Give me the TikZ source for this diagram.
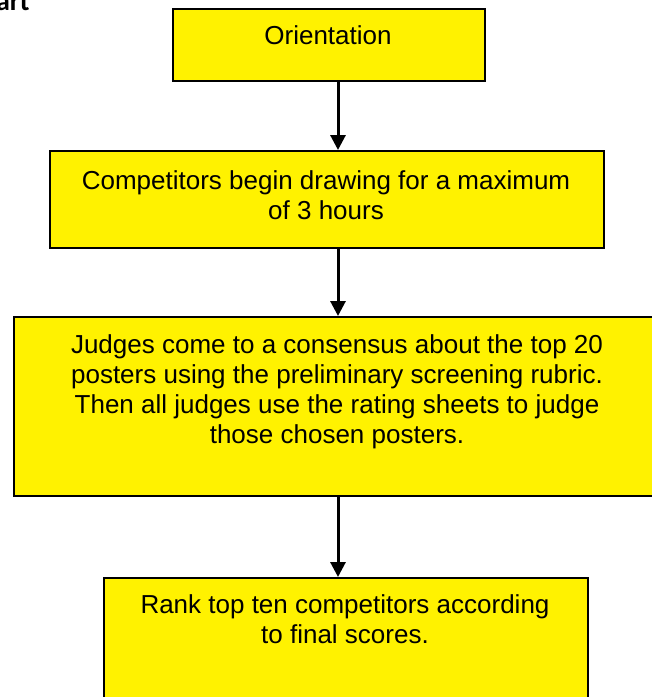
\documentclass[tikz,border=0pt]{standalone}
\usepackage{fontspec}
\setmainfont{Liberation Sans}
\newfontfamily\titlefont{Carlito}
\usetikzlibrary{arrows.meta}
\tikzset{
  box/.style={draw=black,line width=1pt,fill=yellow,anchor=north west,inner sep=0pt},
  boxtext/.style={anchor=north,align=center,inner sep=0pt,font=\fontsize{13}{15}\selectfont},
  flow/.style={line width=1.5pt,-{Triangle[length=7.5pt,width=7.5pt]}}
}
\begin{document}
\begin{tikzpicture}[x=0.5pt,y=-0.5pt]
\useasboundingbox (0,0) rectangle (652,697);
\node[anchor=base east,inner sep=0pt,font=\titlefont\bfseries\fontsize{14}{16}\selectfont] (title) at (30,10) {art};
\node[box,minimum width=156pt,minimum height=36pt] (orient) at (172,8) {};
\node[box,minimum width=277pt,minimum height=48.5pt] (compete) at (49,150) {};
\node[box,minimum width=324.5pt,minimum height=89.5pt] (judges) at (13,316) {};
\node[box,minimum width=242pt,minimum height=72pt] (rank) at (103,577) {};
\node[boxtext] (orienttext) at (328,25) {Orientation};
\node[boxtext] (competetext) at (326,170) {Competitors begin drawing for a maximum\\of 3 hours};
\node[boxtext] (judgestext) at (337,334) {Judges come to a consensus about the top 20\\posters using the preliminary screening rubric.\\Then all judges use the rating sheets to judge\\those chosen posters.};
\node[boxtext] (ranktext) at (345,594) {Rank top ten competitors according\\to final scores.};
\coordinate (ax) at (338,0);
\draw[flow] (orient.south -| ax) -- (compete.north -| ax);
\draw[flow] (compete.south -| ax) -- (judges.north -| ax);
\draw[flow] (judges.south -| ax) -- (rank.north -| ax);
\end{tikzpicture}
\end{document}
